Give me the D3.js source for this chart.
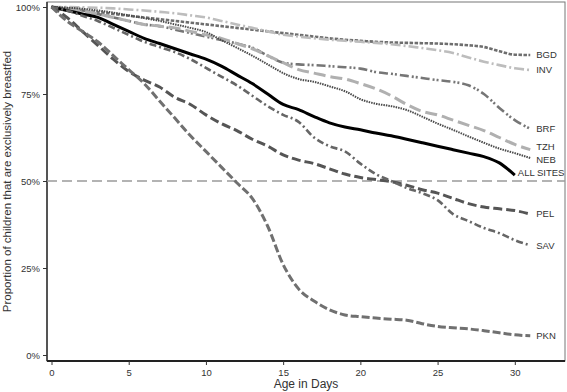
<!DOCTYPE html>
<html lang="en">
<head>
<meta charset="UTF-8">
<title>Exclusive breastfeeding by site</title>
<script src="https://d3js.org/d3.v7.min.js"></script>
<style>
  body { margin: 0; background: #fff; font-family: "Liberation Sans", Arial, sans-serif; }
  .tick text { fill: #333; font-size: 9.5px; }
  .site-label { fill: #333; font-size: 9.5px; }
</style>
</head>
<body>
<svg id="chart" width="567" height="392"></svg>
<script>
// ---- data (proportion exclusively breastfed, %, by day of age) ----
const days = d3.range(0, 32);            // 0..31
const allDays = d3.range(0, 31);         // ALL SITES stops at day 30

const bgd = [100, 99.5, 99, 98.5, 98, 97.5, 97, 96.5, 96, 95.5, 95, 94.5, 94, 93.5, 93, 92.5,
             92, 91.5, 91, 90.6, 90.3, 90, 89.8, 89.7, 89.6, 89.5, 89.3, 89, 88.5, 87.3, 86.3, 86.2];
const inv = [100, 100, 99.9, 99.8, 99.6, 99.3, 99, 98.6, 98.2, 97.6, 97, 96, 95, 94, 93, 92,
             91.5, 91, 90.6, 90.3, 90, 89.7, 89.3, 88.8, 88.2, 87.6, 86.8, 85.5, 84.3, 83.3, 82.4, 81.9];
const brf = [100, 99.5, 99, 98, 97, 96, 95, 94.5, 93.5, 92.5, 91.5, 90.5, 89.5, 88.3, 86, 84,
             83.5, 83.3, 83, 82.7, 82.3, 81.3, 80.8, 80.2, 79.6, 79, 78.5, 77.5, 75, 71, 67.5, 65];
const tzh = [100, 99.5, 99, 98, 97, 96, 95, 94.5, 94, 93, 92, 91, 89.5, 88, 86, 84,
             82, 81, 80, 79.3, 78, 76.5, 74.5, 72, 70, 69, 67.5, 66, 64.5, 62.5, 60.5, 59];
const neb = [100, 99.8, 99.5, 99, 98.4, 97.6, 96.8, 96, 95, 94, 92.8, 90.5, 88.3, 86, 83.5, 81,
             79.3, 78.5, 77.2, 75.8, 73.5, 72.2, 71.5, 70.4, 68.5, 66.5, 64.7, 62.8, 61, 59.3, 58, 56.6];
const allSites = [100, 99, 98, 97, 95, 93, 91, 89.5, 88, 86.5, 85, 83, 80.5, 78, 75, 72,
                  70.5, 68.5, 66.7, 65.5, 64.7, 63.8, 63, 62, 61, 60, 59, 58, 57, 55.2, 51.7];
const pel = [100, 97, 93, 89, 85, 81.5, 79, 77, 74, 72, 69, 66.5, 64.5, 62, 60, 57.5,
             56, 55, 53.5, 52, 51, 50.4, 49.8, 48.8, 47.5, 46.5, 45, 43.5, 42.5, 42, 41.5, 40.5];
const sav = [100, 99, 97.5, 96, 94, 92, 90, 88.5, 87, 85, 82.5, 80, 77.5, 74.5, 71.5, 69,
             67, 62.5, 60, 58.5, 55, 52, 50, 48, 46.5, 44.5, 40.5, 38.5, 36.5, 35, 33, 31.5];
const pkn = [100, 96, 93, 90, 86, 82, 78, 73, 68, 63, 58.5, 54, 49.5, 45, 37, 26,
             19, 15.5, 13, 11.5, 11, 10.6, 10.3, 10, 9, 8.2, 7.8, 7.5, 7, 6.4, 5.8, 5.5];

const siteNames = ["BGD", "INV", "BRF", "TZH", "NEB", "ALL SITES", "PEL", "SAV", "PKN"];
const siteValues = [bgd, inv, brf, tzh, neb, allSites, pel, sav, pkn];

const xTicks = [0, 5, 10, 15, 20, 25, 30];
const yTicks = [0, 25, 50, 75, 100];
const refLevel = 50;

// ---- line styles per site ----
const styles = {
  "BGD":       { color: "#6e6e6e", width: 2.6, dash: "3.5 1.5" },
  "INV":       { color: "#bdbdbd", width: 2.6, dash: "10 3 2 3" },
  "BRF":       { color: "#767676", width: 2.6, dash: "9 3 2 2 2 3" },
  "TZH":       { color: "#b0b0b0", width: 3,   dash: "12 5" },
  "NEB":       { color: "#4a4a4a", width: 2,   dash: "1.5 1" },
  "ALL SITES": { color: "#000000", width: 3,   dash: null },
  "PEL":       { color: "#555555", width: 3,   dash: "9 4" },
  "SAV":       { color: "#666666", width: 2.6, dash: "7 3 2 3" },
  "PKN":       { color: "#707070", width: 3,   dash: "8 3" }
};
// small vertical nudges so labels don't collide
const labelNudge = { "BGD": 0, "INV": 0, "BRF": 0, "TZH": -3, "NEB": 2, "ALL SITES": -2, "PEL": 0, "SAV": 0, "PKN": 0 };
const labelGap = { "ALL SITES": 3 };

// ---- layout ----
const svg = d3.select("#chart");
const frame = { left: 47, right: 565, top: 2, bottom: 361 };

const x = d3.scaleLinear().domain([0, 30]).range([51.5, 514.8]);
const y = d3.scaleLinear().domain([0, 100]).range([355, 7]);

// frame: light top/right, dark left/bottom
svg.append("rect")
  .attr("x", frame.left).attr("y", frame.top)
  .attr("width", frame.right - frame.left).attr("height", frame.bottom - frame.top)
  .attr("fill", "none").attr("stroke", "#777").attr("stroke-width", 1);

// y axis
const yAxis = svg.append("g")
  .attr("transform", `translate(${frame.left},0)`)
  .call(d3.axisLeft(y).tickValues(yTicks).tickSize(4).tickPadding(3).tickFormat(d => d + "%"));
yAxis.select(".domain").attr("d", `M0,${frame.top}V${frame.bottom}`).attr("stroke", "#333").attr("stroke-width", 1.5);
yAxis.selectAll(".tick line").attr("stroke", "#333");

// x axis
const xAxis = svg.append("g")
  .attr("transform", `translate(0,${frame.bottom})`)
  .call(d3.axisBottom(x).tickValues(xTicks).tickSize(4).tickPadding(4));
xAxis.select(".domain").attr("d", `M${frame.left},0H${frame.right}`).attr("stroke", "#222").attr("stroke-width", 2);
xAxis.selectAll(".tick line").attr("stroke", "#333");

// axis titles
svg.append("text")
  .attr("x", (frame.left + frame.right) / 2).attr("y", 388)
  .attr("text-anchor", "middle").attr("fill", "#333").attr("font-size", 12)
  .text("Age in Days");

svg.append("text")
  .attr("transform", `translate(11,${(frame.top + frame.bottom) / 2}) rotate(-90)`)
  .attr("text-anchor", "middle").attr("fill", "#333").attr("font-size", 11.5)
  .text("Proportion of children that are exclusively breastfed");

// 50% reference line
svg.append("line")
  .attr("x1", frame.left).attr("x2", frame.right)
  .attr("y1", y(refLevel)).attr("y2", y(refLevel))
  .attr("stroke", "#9a9a9a").attr("stroke-width", 1.5).attr("stroke-dasharray", "10 5");

// site curves
const line = d3.line()
  .x(d => x(d[0]))
  .y(d => y(d[1]))
  .curve(d3.curveMonotoneX);

siteNames.forEach((name, i) => {
  const vals = siteValues[i];
  const xs = vals.length === allDays.length ? allDays : days;
  const pts = vals.map((v, j) => [xs[j], v]);
  const st = styles[name];

  svg.append("path")
    .datum(pts)
    .attr("d", line)
    .attr("fill", "none")
    .attr("stroke", st.color)
    .attr("stroke-width", st.width)
    .attr("stroke-dasharray", st.dash)
    .attr("stroke-linejoin", "round");

  const last = pts[pts.length - 1];
  svg.append("text")
    .attr("class", "site-label")
    .attr("x", x(last[0]) + (labelGap[name] || 6))
    .attr("y", y(last[1]) + labelNudge[name])
    .attr("dy", "0.35em")
    .text(name);
});
</script>
</body>
</html>
